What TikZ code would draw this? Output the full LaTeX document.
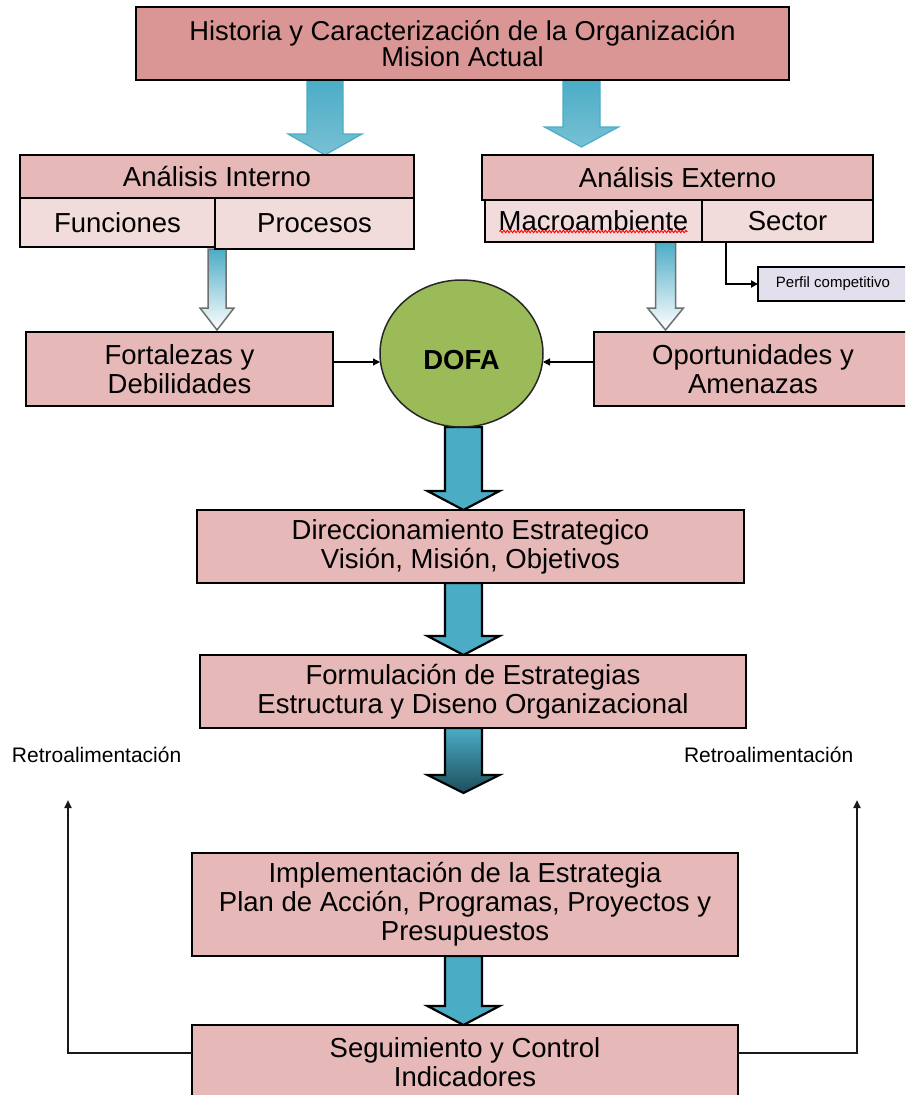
\documentclass[tikz,border=0pt]{standalone}
\usepackage{fontspec}
\setmainfont{Liberation Sans}
\usetikzlibrary{shapes.geometric,calc,arrows.meta,decorations.pathmorphing,backgrounds}

\definecolor{rosaTop}{HTML}{D99694}
\definecolor{rosa}{HTML}{E6B9B8}
\definecolor{rosaClaro}{HTML}{F2DCDB}
\definecolor{lavanda}{HTML}{E4DFEC}
\definecolor{verde}{HTML}{9BBB59}
\definecolor{turquesa}{HTML}{4BACC6}
\definecolor{turquesaOsc}{HTML}{1E4D5C}
\definecolor{gris}{HTML}{6F6F6F}

% block arrow: #1 style, #2 tail point, #3 tip point,
% #4 shaft half width, #5 head half width, #6 head length
\newcommand{\blockarrow}[6]{%
  \path[#1] let \p1=(#2), \p2=(#3) in
    (\x1-#4,\y1) -- (\x1+#4,\y1) -- (\x1+#4,\y2+#6) -- (\x1+#5,\y2+#6)
    -- (\x1,\y2) -- (\x1-#5,\y2+#6) -- (\x1-#4,\y2+#6) -- cycle;}

\begin{document}
\begin{tikzpicture}[x=1pt,y=-1pt,
  every node/.style={inner sep=0pt, outer sep=0pt},
  box/.style={draw=black, line width=2.5pt, fill=rosa, align=center,
    font=\fontsize{27.5}{29}\selectfont},
  subbox/.style={box, line width=2pt, fill=rosaClaro},
  gradarrow/.style={draw=turquesa, line width=1.2pt, top color=turquesa,
    middle color=white, bottom color=turquesa!75},
  hollowarrow/.style={draw=gris, line width=1.5pt, top color=turquesa,
    middle color=white, bottom color=white},
  solidarrow/.style={draw=black, line width=2.2pt, fill=turquesa},
  darkarrow/.style={draw=black, line width=2.2pt, top color=turquesa,
    bottom color=turquesaOsc},
  thinlink/.style={draw=black, line width=1.3pt, -{Triangle[length=7pt,width=7pt]}},
  feedback/.style={draw=black!90, line width=2pt, -{Triangle[length=8pt,width=7pt]}},
  retro/.style={font=\fontsize{21}{23}\selectfont, anchor=base west}
]
\path[use as bounding box] (0,0) rectangle (905,1095);
\clip (0,0) rectangle (905,1095);

% ---- upper level ----
\node[box, fill=rosaTop, minimum width=653pt, minimum height=73pt,
  font=\fontsize{27.3}{26}\selectfont] (hist) at (462.5,43.5)
  {Historia y Caracterización de la Organización\\Mision Actual};

\node[box, minimum width=394pt, minimum height=43pt] (int) at (217,176.5) {Análisis Interno};
\node[subbox, minimum width=195pt, minimum height=49pt] (fun) at (117.5,222.5) {Funciones};
\node[subbox, minimum width=199pt, minimum height=51pt] (proc) at (314.5,223.5) {Procesos};

\node[box, minimum width=391pt, minimum height=45pt] (ext) at (677.5,177.5) {Análisis Externo};
\node[subbox, minimum width=217pt, minimum height=42pt] (macro) at (593.5,221) {Macroambiente};
\node[subbox, minimum width=171pt, minimum height=42pt] (sector) at (787.5,221) {Sector};
\draw[red, line width=0.9pt, decorate, decoration={zigzag, segment length=3.5pt, amplitude=1.2pt}]
  ($(macro.south)+(-94,-10.5)$) -- ($(macro.south)+(94,-10.5)$);

\node[box, line width=2pt, fill=lavanda, minimum width=150pt, minimum height=34pt,
  font=\fontsize{15}{17}\selectfont] (perfil) at (833,284) {Perfil competitivo};

% ---- DOFA level ----
\node[box, minimum width=307pt, minimum height=74pt] (fort) at (179.5,369) {Fortalezas y\\Debilidades};
\node[box, minimum width=318pt, minimum height=74pt] (opor) at (753,369) {Oportunidades y\\Amenazas};
\node[ellipse, draw=black!85, line width=1.5pt, fill=verde, minimum width=163pt,
  minimum height=147pt, font=\fontsize{27.5}{29}\selectfont\bfseries] (dofa) at (461.5,353.5)
  {\raisebox{-15.5pt}[0pt][0pt]{DOFA}};

% ---- strategy chain ----
\node[box, minimum width=547pt, minimum height=73pt] (dir) at (470.5,546.5)
  {Direccionamiento Estrategico\\Visión, Misión, Objetivos};
\node[box, minimum width=546pt, minimum height=73pt] (form) at (473,691.5)
  {Formulación de Estrategias\\Estructura y Diseno Organizacional};
\node[box, minimum width=546pt, minimum height=103pt] (impl) at (465,904.5)
  {Implementación de la Estrategia\\Plan de Acción, Programas, Proyectos y\\Presupuestos};
\node[box, minimum width=546pt, minimum height=75pt] (seg) at (465,1062.5)
  {Seguimiento y Control\\Indicadores};

\node[retro] (retroL) at (12,762) {Retroalimentación};
\node[retro] (retroR) at (684,762) {Retroalimentación};

% ---- reference columns for the block arrows ----
\coordinate (c1) at (325,0);
\coordinate (c2) at (581.5,0);
\coordinate (c3) at (217,0);
\coordinate (c4) at (665.5,0);
\coordinate (c5) at (463.5,0);
\coordinate (endA) at (463.5,793);
\coordinate (endB) at (581.5,147);
\coordinate (endC) at (217,330);
\coordinate (endD) at (665.5,330);

\begin{scope}[on background layer]
  \blockarrow{gradarrow}{hist.south -| c1}{int.north -| c1}{18pt}{37pt}{21pt}
  \blockarrow{gradarrow}{hist.south -| c2}{endB}{18.5pt}{37pt}{20pt}
  \blockarrow{hollowarrow}{proc.south -| c3}{endC}{9pt}{17pt}{22pt}
  \blockarrow{hollowarrow}{macro.south -| c4}{endD}{10pt}{18pt}{22pt}
  \blockarrow{solidarrow}{dofa.south -| c5}{dir.north -| c5}{18.5pt}{36pt}{19pt}
  \blockarrow{solidarrow}{dir.south -| c5}{form.north -| c5}{18.5pt}{36pt}{19pt}
  \blockarrow{darkarrow}{form.south -| c5}{endA}{18.5pt}{36pt}{18pt}
  \blockarrow{solidarrow}{impl.south -| c5}{seg.north -| c5}{18.5pt}{36pt}{19pt}
\end{scope}

% ---- thin connectors ----
\coordinate (ylink) at (0,362);
\draw[thinlink] (fort.east |- ylink) -- (dofa.west |- ylink);
\draw[thinlink] (opor.west |- ylink) -- (dofa.east |- ylink);

\coordinate (pv) at (726,0);
\draw[draw=black, line width=2pt, -{Triangle[length=7pt,width=7pt]}]
  (sector.south -| pv) |- (perfil.west);

\coordinate (fb) at (0,1053);
\coordinate (tipL) at (68,800);
\coordinate (tipR) at (857,800);
\draw[feedback] (seg.west |- fb) -| (tipL);
\draw[feedback] (seg.east |- fb) -| (tipR);
\end{tikzpicture}
\end{document}
